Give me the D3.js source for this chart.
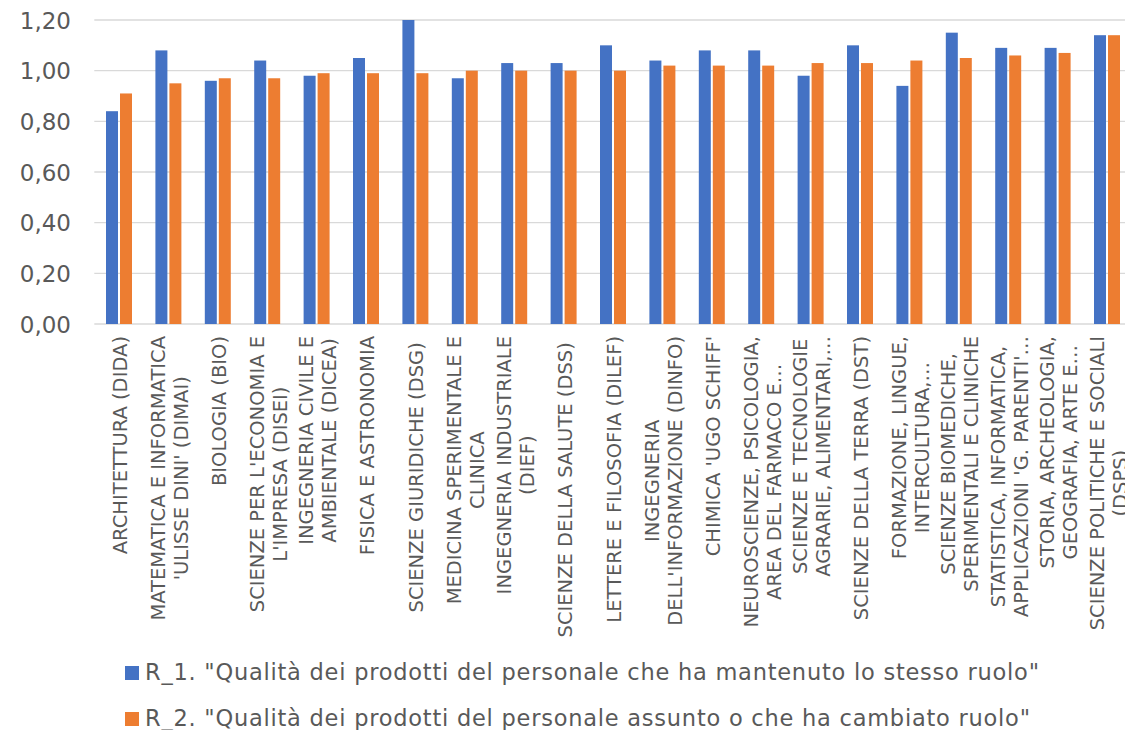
<!DOCTYPE html>
<html>
<head>
<meta charset="utf-8">
<script src="https://cdn.jsdelivr.net/npm/d3@7/dist/d3.min.js"></script>
<style>
  html, body { margin: 0; padding: 0; background: #ffffff; }
  svg { display: block; }
  text { font-family: "DejaVu Sans", Verdana, sans-serif; fill: #595959; }
</style>
</head>
<body>
<svg id="chart" width="1125" height="730"></svg>
<script>
// ---- Data ----
const categories = [
  ["ARCHITETTURA (DIDA)"],
  ["MATEMATICA E INFORMATICA", "'ULISSE DINI' (DIMAI)"],
  ["BIOLOGIA (BIO)"],
  ["SCIENZE PER L'ECONOMIA E", "L'IMPRESA (DISEI)"],
  ["INGEGNERIA CIVILE E", "AMBIENTALE (DICEA)"],
  ["FISICA E ASTRONOMIA"],
  ["SCIENZE GIURIDICHE (DSG) "],
  ["MEDICINA SPERIMENTALE E", "CLINICA"],
  ["INGEGNERIA INDUSTRIALE", "(DIEF)"],
  ["SCIENZE DELLA SALUTE (DSS) "],
  ["LETTERE E FILOSOFIA (DILEF)"],
  ["INGEGNERIA", "DELL'INFORMAZIONE (DINFO)"],
  ["CHIMICA 'UGO SCHIFF'"],
  ["NEUROSCIENZE, PSICOLOGIA,", "AREA DEL FARMACO E…"],
  ["SCIENZE E TECNOLOGIE", "AGRARIE, ALIMENTARI,…"],
  ["SCIENZE DELLA TERRA (DST)"],
  ["FORMAZIONE, LINGUE,", "INTERCULTURA,…"],
  ["SCIENZE BIOMEDICHE,", "SPERIMENTALI E CLINICHE"],
  ["STATISTICA, INFORMATICA,", "APPLICAZIONI 'G. PARENTI'…"],
  ["STORIA, ARCHEOLOGIA,", "GEOGRAFIA, ARTE E…"],
  ["SCIENZE POLITICHE E SOCIALI", "(DSPS)"]
];
const seriesNames = [
  'R_1. "Qualità dei prodotti del personale che ha mantenuto lo stesso ruolo"',
  'R_2. "Qualità dei prodotti del personale assunto o che ha cambiato ruolo"'
];
const r1Values = [0.84, 1.08, 0.96, 1.04, 0.98, 1.05, 1.20, 0.97, 1.03, 1.03, 1.10, 1.04, 1.08, 1.08, 0.98, 1.10, 0.94, 1.15, 1.09, 1.09, 1.14];
const r2Values = [0.91, 0.95, 0.97, 0.97, 0.99, 0.99, 0.99, 1.00, 1.00, 1.00, 1.00, 1.02, 1.02, 1.02, 1.03, 1.03, 1.04, 1.05, 1.06, 1.07, 1.14];
const yTicks = [0, 0.2, 0.4, 0.6, 0.8, 1.0, 1.2];
const colors = ["#4472C4", "#ED7D31"];

// ---- Layout ----
const svg = d3.select("#chart");
const plotLeft = 94.3, plotRight = 1131.7, plotTop = 20, plotBottom = 324;
const idx = d3.range(categories.length);

const x0 = d3.scaleBand().domain(idx).range([plotLeft, plotRight])
  .paddingInner(0.474).paddingOuter(0.237);
const x1 = d3.scaleBand().domain([0, 1]).range([0, x0.bandwidth()])
  .paddingInner(2 / 14).paddingOuter(0);
const y = d3.scaleLinear().domain([0, 1.2]).range([plotBottom, plotTop]);
const fmt = v => d3.format(".2f")(v).replace(".", ",");

// gridlines
svg.append("g").selectAll("line").data(yTicks).join("line")
  .attr("x1", plotLeft).attr("x2", 1125)
  .attr("y1", d => y(d)).attr("y2", d => y(d))
  .attr("stroke", "#d9d9d9").attr("stroke-width", 1.3);

// y axis labels
const yAxis = d3.axisLeft(y).tickValues(yTicks).tickFormat(fmt).tickSize(0).tickPadding(0);
const yg = svg.append("g").attr("transform", "translate(71,0)").call(yAxis);
yg.select(".domain").remove();
yg.selectAll("text").style("font-size", "23px").style("font-family", '"DejaVu Sans", Verdana, sans-serif')
  .attr("fill", "#595959").attr("dy", "0.35em");

// bars
const series = [r1Values, r2Values];
const groups = svg.append("g").selectAll("g").data(idx).join("g")
  .attr("transform", i => `translate(${x0(i)},0)`);
groups.selectAll("rect").data(i => series.map((s, k) => ({k, v: s[i]}))).join("rect")
  .attr("x", d => x1(d.k))
  .attr("width", x1.bandwidth())
  .attr("y", d => y(d.v))
  .attr("height", d => y(0) - y(d.v))
  .attr("fill", d => colors[d.k]);

// x category labels (rotated, wrapped, centered lines, top aligned)
const fs = 19.5, lineH = 23, labelTop = 336;
const xl = svg.append("g");
idx.forEach(i => {
  const lines = categories[i];
  const cx = x0(i) + x0.bandwidth() / 2 + 1;
  const g = xl.append("g");
  const texts = lines.map((ln, k) => g.append("text")
    .style("font-size", fs + "px").style("white-space", "pre")
    .attr("text-anchor", "middle")
    .text(ln));
  const W = d3.max(texts, t => t.node().getComputedTextLength());
  texts.forEach((t, k) => {
    const off = (k - (lines.length - 1) / 2) * lineH;
    t.attr("transform", `translate(${cx + off + 0.36 * fs},${labelTop + W / 2}) rotate(-90)`);
  });
});

// legend
const legend = svg.append("g");
const legY = [680, 726];
const legW = [894, 885];
seriesNames.forEach((name, k) => {
  legend.append("rect").attr("x", 125).attr("y", legY[k] - 14).attr("width", 14).attr("height", 14)
    .attr("fill", colors[k]);
  legend.append("text").attr("x", 145).attr("y", legY[k])
    .style("font-size", "22.5px")
    .attr("textLength", legW[k]).attr("lengthAdjust", "spacing")
    .text(name);
});
</script>
</body>
</html>
